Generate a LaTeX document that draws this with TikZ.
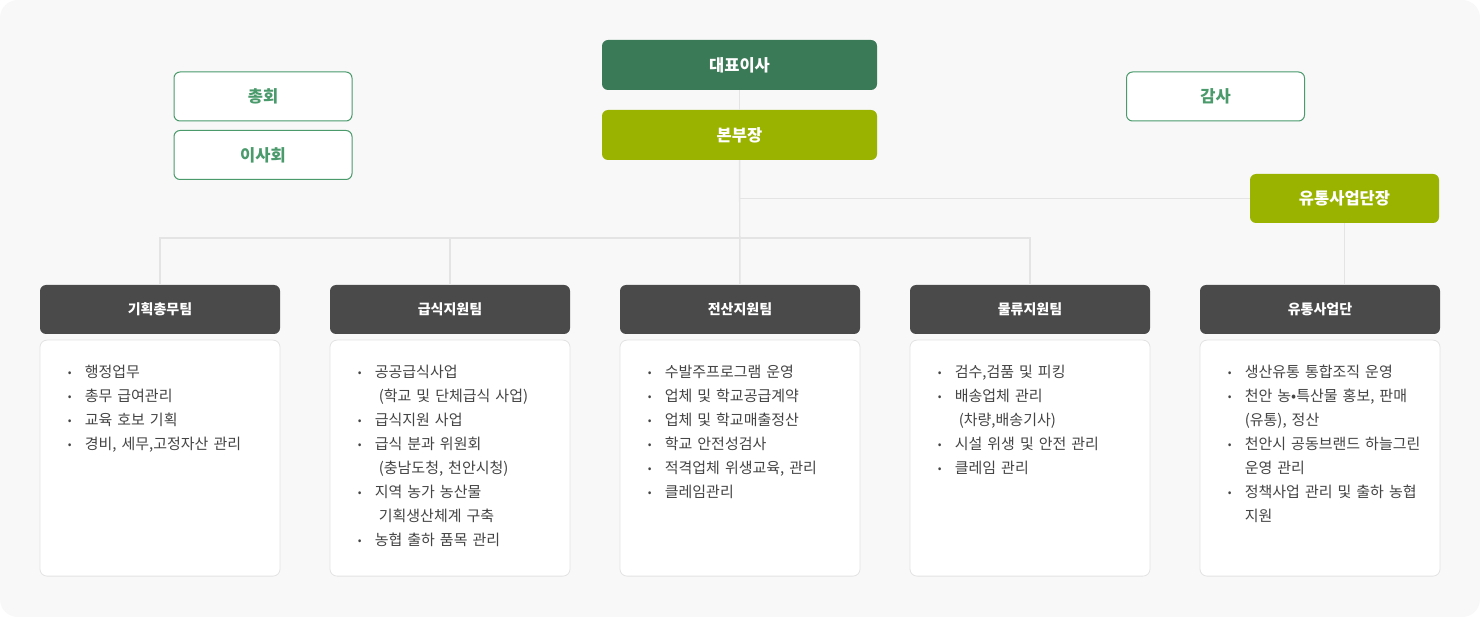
\documentclass[tikz,border=0pt]{standalone}
\usepackage{fontspec}
\setmainfont{Noto Sans CJK KR}
\usetikzlibrary{positioning}

\definecolor{bggray}{HTML}{F8F8F8}
\definecolor{ceogreen}{HTML}{3B7A57}
\definecolor{olive}{HTML}{99B300}
\definecolor{headgray}{HTML}{4A4A4A}
\definecolor{linkgray}{HTML}{E4E4E4}
\definecolor{framegreen}{HTML}{4A9A6C}
\definecolor{bodyline}{HTML}{E3E3E3}
\definecolor{bodytext}{HTML}{444444}

\newcommand{\itemdot}{\makebox[17pt][l]{\raisebox{1.2pt}{\fontsize{11}{11}\selectfont •}}}
\newcommand{\hang}{\hspace*{17pt}}
\newcommand{\hangsp}{\hspace*{21pt}}

\tikzset{
  topbox/.style={rounded corners=6pt, minimum width=275pt, minimum height=50pt, inner sep=0pt,
    text=white, font=\fontsize{16.5}{16.5}\selectfont\bfseries},
  sidebox/.style={draw=framegreen, line width=1pt, fill=white, rounded corners=6pt, minimum width=178pt,
    minimum height=49pt, inner sep=0pt, text=framegreen, font=\fontsize{16.5}{16.5}\selectfont\bfseries},
  teamhead/.style={fill=headgray, rounded corners=6pt, minimum width=240pt, minimum height=49pt,
    inner sep=0pt, text=white, font=\fontsize{14}{14}\selectfont\bfseries},
  teambody/.style={draw=bodyline, line width=0.8pt, fill=white, rounded corners=7pt, minimum width=240pt,
    minimum height=236pt, inner sep=0pt},
  itemtext/.style={anchor=north west, inner sep=0pt, text width=210pt, align=left,
    text=bodytext, font=\fontsize{15}{24}\selectfont},
  link/.style={draw=linkgray, line width=1.4pt}
}

\begin{document}
\begin{tikzpicture}[x=1pt, y=-1pt, node distance=5.5pt]
    \useasboundingbox (0,0) rectangle (1480,617);
    \fill[white] (0,0) rectangle (1480,617);
    \fill[bggray, rounded corners=18pt] (0,0) rectangle (1480,617);

    \node[topbox, fill=ceogreen] (ceo) at (739.5,65) {대표이사};
    \node[topbox, fill=olive] (chief) at (739.5,135) {본부장};
    \node[sidebox] (assembly) at (263,96.5) {총회};
    \node[sidebox] (board) at (263,155) {이사회};
    \node[sidebox] (audit) at (1215.5,96.5) {감사};
    \node[topbox, fill=olive, minimum width=189pt, minimum height=49pt] (dist) at (1344.5,198.5) {유통사업단장};

    \node[teamhead] (head1) at (160,309.5) {기획총무팀};
    \node[teamhead] (head2) at (450,309.5) {급식지원팀};
    \node[teamhead] (head3) at (740,309.5) {전산지원팀};
    \node[teamhead] (head4) at (1030,309.5) {물류지원팀};
    \node[teamhead] (head5) at (1320,309.5) {유통사업단};

    \foreach \i in {1,...,5} {
      \node[teambody, below=of head\i] (body\i) {};
    }

    \node[itemtext] (list1) at ([xshift=28pt, yshift=-25pt]body1.north west) {%
      \itemdot 행정업무\\
      \itemdot 총무 급여관리\\
      \itemdot 교육 호보 기획\\
      \itemdot 경비, 세무,고정자산 관리};
    \node[itemtext] (list2) at ([xshift=28pt, yshift=-25pt]body2.north west) {%
      \itemdot 공공급식사업\\
      \hangsp(학교 및 단체급식 사업)\\
      \itemdot 급식지원 사업\\
      \itemdot 급식 분과 위원회\\
      \hangsp(충남도청, 천안시청)\\
      \itemdot 지역 농가 농산물\\
      \hangsp 기획생산체계 구축\\
      \itemdot 농협 출하 품목 관리};
    \node[itemtext] (list3) at ([xshift=28pt, yshift=-25pt]body3.north west) {%
      \itemdot 수발주프로그램 운영\\
      \itemdot 업체 및 학교공급계약\\
      \itemdot 업체 및 학교매출정산\\
      \itemdot 학교 안전성검사\\
      \itemdot 적격업체 위생교육, 관리\\
      \itemdot 클레임관리};
    \node[itemtext] (list4) at ([xshift=28pt, yshift=-25pt]body4.north west) {%
      \itemdot 검수,검품 및 피킹\\
      \itemdot 배송업체 관리\\
      \hangsp(차량,배송기사)\\
      \itemdot 시설 위생 및 안전 관리\\
      \itemdot 클레임 관리};
    \node[itemtext] (list5) at ([xshift=28pt, yshift=-25pt]body5.north west) {%
      \itemdot 생산유통 통합조직 운영\\
      \itemdot 천안 농•특산물 홍보, 판매\\
      \hang(유통), 정산\\
      \itemdot 천안시 공동브랜드 하늘그린\\
      \hang 운영 관리\\
      \itemdot 정책사업 관리 및 출하 농협\\
      \hang 지원};

    \coordinate (split) at (739.5,198.5);
    \coordinate (bus) at (739.5,238);
    \draw[link] (ceo) -- (chief);
    \draw[link] (chief) -- (head3);
    \draw[link] (split) -- (dist);
    \draw[link] (head1.north) |- (bus) -| (head4.north);
    \draw[link] (head2.north) -- (head2.north |- bus);
    \draw[link] (dist) -- (dist |- head5.north);
\end{tikzpicture}
\end{document}
